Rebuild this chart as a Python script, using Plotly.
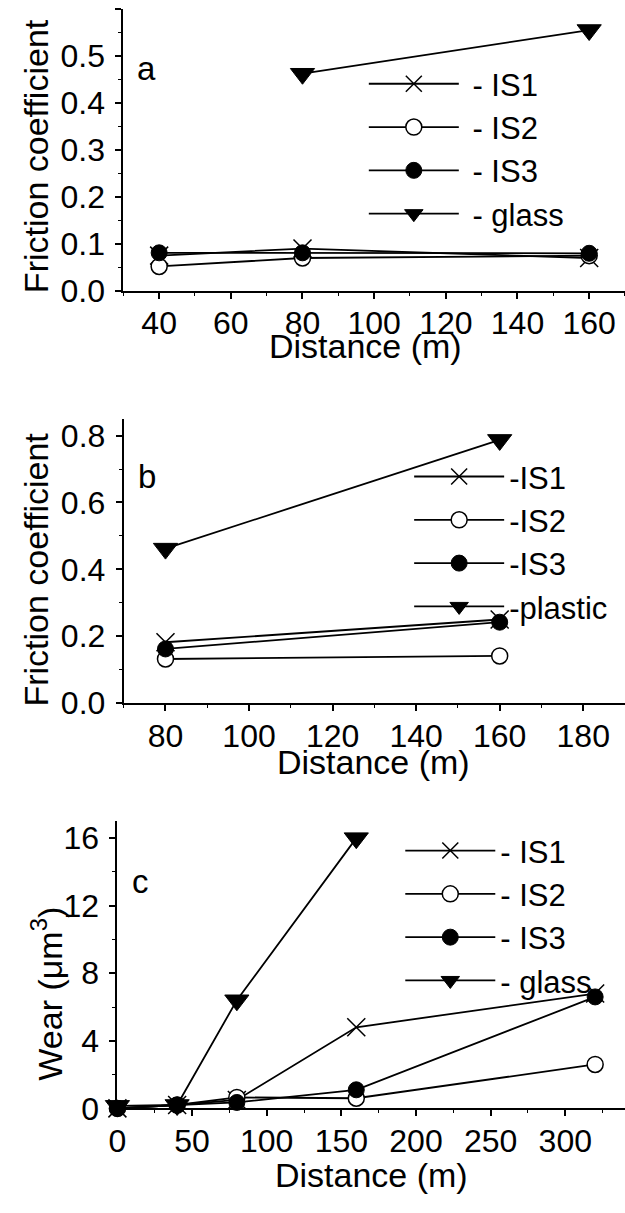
import plotly.graph_objects as go

W, H = 625, 1213
FONT = "Liberation Sans, Arial, sans-serif"

# ---------------- data ----------------
# panel a: friction coefficient vs distance (vs glass)
a_dist = [40, 80, 160]
a_is1 = [0.075, 0.090, 0.070]
a_is2 = [0.052, 0.070, 0.075]
a_is3 = [0.081, 0.081, 0.080]
a_glass_dist = [80, 160]
a_glass = [0.462, 0.555]

# panel b: friction coefficient vs distance (vs plastic)
b_dist = [80, 160]
b_is1 = [0.182, 0.250]
b_is2 = [0.132, 0.141]
b_is3 = [0.162, 0.242]
b_plastic = [0.462, 0.787]

# panel c: wear vs distance
c_dist = [0, 40, 80, 160, 320]
c_is1 = [0.0, 0.2, 0.5, 4.8, 6.8]
c_is2 = [0.0, 0.2, 0.65, 0.6, 2.6]
c_is3 = [0.0, 0.2, 0.35, 1.1, 6.6]
c_glass_dist = [0, 40, 80, 160]
c_glass = [0.15, 0.2, 6.4, 16.0]

names_a = ["\u00a0- IS1", "\u00a0- IS2", "\u00a0- IS3", "\u00a0- glass"]
names_b = ["-IS1", "-IS2", "-IS3", "-plastic"]
names_c = ["- IS1", "- IS2", "- IS3", "- glass"]


def xp(px):
    return px / W


def yp(py):
    return 1 - py / H


STYLES = [
    dict(symbol="x-thin-open", size=18, color="black", line=dict(color="black", width=1.5)),
    dict(symbol="circle", size=16, color="white", line=dict(color="black", width=1.5)),
    dict(symbol="circle", size=16, color="black", line=dict(color="black", width=1)),
    dict(symbol="triangle-down", size=21, color="black", line=dict(color="black", width=1)),
]

fig = go.Figure()


def add_panel(xs_list, ys_list, names, xa, ya, legend):
    for i, (xs, ys, nm) in enumerate(zip(xs_list, ys_list, names)):
        fig.add_trace(go.Scatter(
            x=xs, y=ys, name=nm, mode="lines+markers",
            line=dict(color="black", width=1.8),
            marker=STYLES[i], xaxis=xa, yaxis=ya, legend=legend,
            cliponaxis=False,
        ))


add_panel([a_dist, a_dist, a_dist, a_glass_dist], [a_is1, a_is2, a_is3, a_glass],
          names_a, "x", "y", "legend")
add_panel([b_dist, b_dist, b_dist, b_dist], [b_is1, b_is2, b_is3, b_plastic],
          names_b, "x2", "y2", "legend2")
add_panel([c_dist, c_dist, c_dist, c_glass_dist], [c_is1, c_is2, c_is3, c_glass],
          names_c, "x3", "y3", "legend3")

tickfont = dict(family=FONT, size=32, color="black")


def main_x(dom, rng, dtick, mdtick, anchor):
    return dict(domain=dom, range=rng, anchor=anchor, dtick=dtick, tick0=0,
                showline=True, linecolor="black", linewidth=2,
                ticks="outside", ticklen=6, tickwidth=1.5, tickcolor="black",
                minor=dict(dtick=mdtick, ticks="outside", ticklen=3, tickwidth=1.2, tickcolor="black"),
                showgrid=False, zeroline=False, tickfont=tickfont, ticklabelstandoff=-3)


def main_y(dom, rng, dtick, mdtick, anchor, fmt):
    return dict(domain=dom, range=rng, anchor=anchor, dtick=dtick, tick0=0,
                showline=True, linecolor="black", linewidth=2,
                ticks="outside", ticklen=6, tickwidth=1.5, tickcolor="black",
                minor=dict(dtick=mdtick, ticks="outside", ticklen=3, tickwidth=1.2, tickcolor="black"),
                showgrid=False, zeroline=False, tickfont=tickfont, tickformat=fmt,
                ticklabelstandoff=4)


def top_x(over, rng, dtick, mdtick, anchor):
    return dict(overlaying=over, side="top", anchor=anchor, range=rng, dtick=dtick, tick0=0,
                showline=True, linecolor="black", linewidth=2,
                ticks="inside", ticklen=6, tickwidth=1.5, tickcolor="black",
                minor=dict(dtick=mdtick, ticks="inside", ticklen=3, tickwidth=1.2, tickcolor="black"),
                showticklabels=False, showgrid=False, zeroline=False)


def right_y(over, rng, dtick, mdtick, anchor):
    return dict(overlaying=over, side="right", anchor=anchor, range=rng, dtick=dtick, tick0=0,
                showline=False,
                ticks="inside", ticklen=6, tickwidth=1.5, tickcolor="black",
                minor=dict(dtick=mdtick, ticks="inside", ticklen=3, tickwidth=1.2, tickcolor="black"),
                showticklabels=False, showgrid=False, zeroline=False)


a_xr, a_yr = [30, 170], [0, 0.6]
b_xr, b_yr = [70, 190], [0, 0.85]
c_xr, c_yr = [0, 340], [0, 17]

a_xd, a_yd = [xp(116), 1], [yp(294.5), yp(8)]
b_xd, b_yd = [xp(116.4), 1], [yp(713.3), yp(424.5)]
c_xd, c_yd = [xp(110), 1], [yp(1125), yp(833.3)]

leg_common = dict(bgcolor="rgba(0,0,0,0)", borderwidth=0, font=dict(family=FONT, size=31, color="black"),
                  xanchor="left", yanchor="top", itemwidth=90, tracegroupgap=0)

fig.update_layout(
    width=W, height=H, autosize=False,
    margin=dict(l=0, r=0, t=0, b=0, pad=0),
    paper_bgcolor="white", plot_bgcolor="white",
    font=dict(family=FONT, size=31, color="black"),
    xaxis=main_x(a_xd, a_xr, 20, 10, "y"),
    yaxis=main_y(a_yd, a_yr, 0.1, 0.05, "x", ".1f"),
    xaxis2=main_x(b_xd, b_xr, 20, 10, "y2"),
    yaxis2=main_y(b_yd, b_yr, 0.2, 0.1, "x2", ".1f"),
    xaxis3=main_x(c_xd, c_xr, 50, 25, "y3"),
    yaxis3=main_y(c_yd, c_yr, 4, 2, "x3", "d"),
    xaxis4=top_x("x", a_xr, 20, 10, "y"),
    yaxis4=right_y("y", a_yr, 0.1, 0.05, "x"),
    xaxis5=top_x("x2", b_xr, 20, 10, "y2"),
    yaxis5=right_y("y2", b_yr, 0.2, 0.1, "x2"),
    xaxis6=top_x("x3", c_xr, 50, 25, "y3"),
    yaxis6=right_y("y3", c_yr, 4, 2, "x3"),
    legend=dict(x=xp(360), y=yp(57), **leg_common),
    legend2=dict(x=xp(406), y=yp(456), **leg_common),
    legend3=dict(x=xp(397), y=yp(836), **leg_common),
    showlegend=True,
)

ann = []


def text(x, y, s, size=31, xanchor="center", yanchor="middle", angle=0):
    ann.append(dict(x=xp(x), y=yp(y), xref="paper", yref="paper", text=s, showarrow=False,
                    xanchor=xanchor, yanchor=yanchor, textangle=angle,
                    font=dict(family=FONT, size=size, color="black")))


# axis titles
text(27, 158, "Friction coefficient", size=34, angle=-90)
text(362, 350.5, "Distance (m)", size=34)
text(27, 578, "Friction coefficient", size=34, angle=-90)
text(370, 773.5, "Distance (m)", size=34)
text(38, 1008, "Wear (μm<sup>3</sup>)", size=34, angle=-90)
text(368, 1192.5, "Distance (m)", size=34)
# panel letters
text(128, 69, "a", size=33, xanchor="left")
text(129, 483, "b", size=33, xanchor="left")
text(123, 894.5, "c", size=33, xanchor="left")

fig.update_layout(annotations=ann)

fig.write_html("out.html")
